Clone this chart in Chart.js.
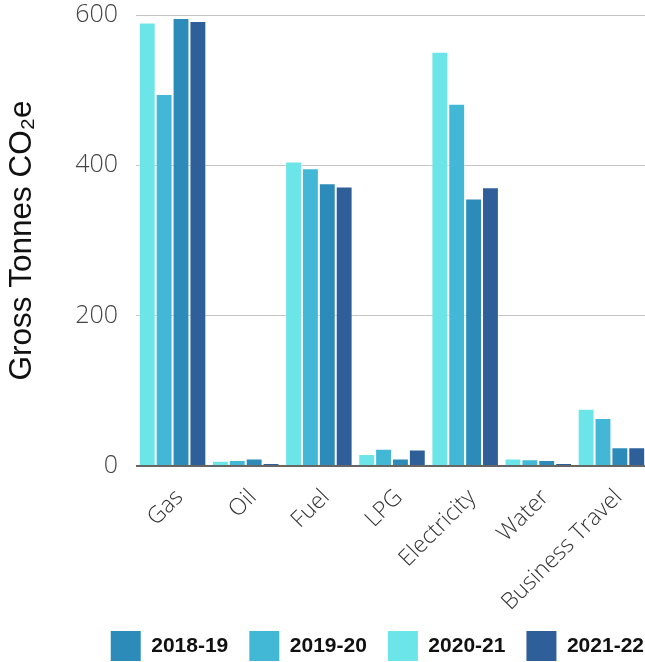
<!DOCTYPE html>
<html>
<head>
<meta charset="utf-8">
<script src="https://cdn.jsdelivr.net/npm/chart.js@4/dist/chart.umd.min.js"></script>
<style>
  html, body { margin: 0; padding: 0; background: #fff; overflow: hidden; }
  .chartBox { width: 648px; height: 662px; }
</style>
</head>
<body>
<div class="chartBox"><canvas id="emissions-chart"></canvas></div>
<script>
// values, gross tonnes CO2e
const categories = ['Gas', 'Oil', 'Fuel', 'LPG', 'Electricity', 'Water', 'Business Travel'];
const yr2020_21 = [590, 7, 405, 16, 551, 10, 76];
const yr2019_20 = [495, 8, 396, 23, 482, 9, 64];
const yr2018_19 = [596, 10, 376, 10, 356, 8, 25];
const yr2021_22 = [592, 4, 372, 22, 371, 4, 25];
const yTicks = [0, 200, 400, 600];

const makeSet = (label, data, color) => ({
  label: label,
  data: data,
  backgroundColor: color,
  borderColor: 'rgba(255,255,255,0.55)',
  borderWidth: 1,
  barPercentage: 1,
  categoryPercentage: 0.923
});

// nudge the legend right so it sits like the original (partly past the edge)
const legendNudge = {
  id: 'legendNudge',
  afterLayout(chart) {
    const lg = chart.legend;
    if (!lg) return;
    lg.left += 17;
    lg.right += 17;
  }
};

const ctx = document.getElementById('emissions-chart');
new Chart(ctx, {
  type: 'bar',
  data: {
    labels: categories,
    datasets: [
      makeSet('2020-21', yr2020_21, '#6ce5e8'),
      makeSet('2019-20', yr2019_20, '#42b8d6'),
      makeSet('2018-19', yr2018_19, '#2d8bba'),
      makeSet('2021-22', yr2021_22, '#2e5f99')
    ]
  },
  plugins: [legendNudge],
  options: {
    responsive: true,
    maintainAspectRatio: false,
    animation: false,
    layout: { padding: { top: 4, right: 0, left: 0, bottom: -9 } },
    plugins: {
      tooltip: { enabled: false },
      legend: {
        position: 'bottom',
        align: 'end',
        labels: {
          boxWidth: 30,
          boxHeight: 30,
          padding: 21,
          color: '#111',
          font: { family: '"Liberation Sans", Arial, sans-serif', size: 21, weight: 'bold' },
          generateLabels: (chart) => {
            const items = Chart.defaults.plugins.legend.labels.generateLabels(chart);
            items.forEach(it => { it.strokeStyle = it.fillStyle; it.lineWidth = 0; });
            return items;
          },
          sort: (a, b) => a.text.localeCompare(b.text)
        }
      }
    },
    scales: {
      x: {
        afterFit: (scale) => { scale.height = 144; },
        grid: { display: false },
        border: { display: false },
        ticks: {
          color: '#333',
          font: { family: '"Open Sans", sans-serif', size: 23, weight: 300 },
          maxRotation: 45,
          minRotation: 45,
          labelOffset: 7,
          padding: 10
        }
      },
      y: {
        min: 0,
        max: 600,
        afterFit: (scale) => { scale.width = 136; },
        afterBuildTicks: (scale) => { scale.ticks = yTicks.map(v => ({ value: v })); },
        border: { display: false },
        grid: {
          drawTicks: true,
          tickLength: 18,
          tickColor: 'rgba(0,0,0,0)',
          color: (c) => (c.tick && c.tick.value === 0) ? '#666' : '#c4c4c4',
          lineWidth: (c) => (c.tick && c.tick.value === 0) ? 2 : 1
        },
        ticks: {
          color: '#444',
          font: { family: '"Open Sans", sans-serif', size: 25, weight: 300 },
          padding: 0
        },
        title: {
          display: true,
          text: 'Gross Tonnes CO₂e',
          color: '#111',
          font: { family: '"Liberation Sans", Arial, sans-serif', size: 31.5 },
          padding: { top: 3, bottom: 0 }
        }
      }
    }
  }
});
</script>
</body>
</html>
